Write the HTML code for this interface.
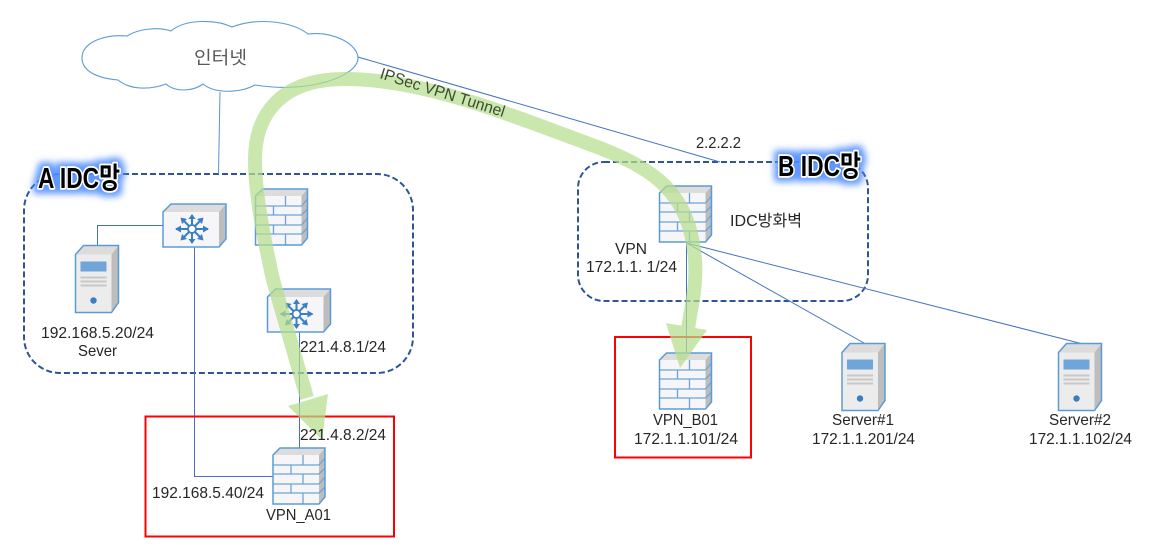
<!DOCTYPE html>
<html>
<head>
<meta charset="utf-8">
<style>
html,body{margin:0;padding:0;background:#fff;width:1163px;height:554px;overflow:hidden}
svg{display:block}
text{font-family:"Liberation Sans","Noto Sans CJK KR",sans-serif;font-size:16px;fill:#262626}
.h{font-family:"Liberation Sans","Noto Sans CJK KR",sans-serif;font-size:29px;font-weight:bold;fill:#000;stroke:#fff;stroke-width:3.5px;paint-order:stroke;stroke-linejoin:round}
</style>
</head>
<body>
<svg width="1163" height="554" viewBox="0 0 1163 554" xmlns="http://www.w3.org/2000/svg">
<defs>
<filter id="glow" x="-30%" y="-60%" width="160%" height="220%">
  <feMorphology in="SourceAlpha" operator="dilate" radius="4" result="d"/>
  <feGaussianBlur in="d" stdDeviation="3.5" result="b"/>
  <feFlood flood-color="#4f8dff" flood-opacity="0.9"/>
  <feComposite in2="b" operator="in" result="g"/>
  <feMerge><feMergeNode in="g"/><feMergeNode in="SourceGraphic"/></feMerge>
</filter>
<g id="fw">
  <polygon points="0,7 7,0 52,0 46,7" fill="#dcdcdc"/>
  <polygon points="46,7 52,0 52,49 46,56" fill="#bdbdbd"/>
  <rect x="0" y="7" width="46" height="49" fill="#f6f5f7"/>
  <g stroke="#6ea3d8" stroke-width="1.3" fill="none">
    <path d="M0,17H46M0,26H46M0,36H46M0,45H46"/>
    <path d="M30,7V17M18,17V26M30,26V36M18,36V45M30,45V56"/>
    <path d="M46,17L52,10M46,26L52,20M46,36L52,29M46,45L52,39"/>
  </g>
  <path d="M0,7L7,0H52V49L46,56H0Z" fill="none" stroke="#5b9bd5" stroke-width="1.5"/>
</g>
<g id="sw">
  <polygon points="0,8 8,0 63,0 56,8" fill="#dcdcdc"/>
  <polygon points="56,8 63,0 63,35 56,43" fill="#bdbdbd"/>
  <rect x="0" y="8" width="56" height="35" fill="#f6f5f7"/>
  <path d="M0,8L8,0H63V35L56,43H0Z" fill="none" stroke="#5b9bd5" stroke-width="1.5"/>
  <g stroke="#3a7fc4" stroke-width="2" fill="none">
    <path d="M13,25H45M29,11V39M20,16L38,34M38,16L20,34"/>
  </g>
  <g fill="#3a7fc4">
    <polygon points="12,25 18,21.5 18,28.5"/>
    <polygon points="46,25 40,21.5 40,28.5"/>
    <polygon points="29,10 25.5,15 32.5,15"/>
    <polygon points="29,40 25.5,35 32.5,35"/>
    <polygon points="17.5,13.5 24,15 19,20"/>
    <polygon points="40.5,13.5 34,15 39,20"/>
    <polygon points="17.5,36.5 24,35 19,30"/>
    <polygon points="40.5,36.5 34,35 39,30"/>
  </g>
  <circle cx="29" cy="25" r="4" fill="#fff" stroke="#3a7fc4" stroke-width="1.8"/>
</g>
<g id="sv">
  <polygon points="0,9 8,0 43,0 36,9" fill="#dcdcdc"/>
  <polygon points="36,9 43,0 43,57 36,67" fill="#bdbdbd"/>
  <rect x="0" y="9" width="36" height="58" fill="#ececec"/>
  <rect x="5" y="16" width="26" height="10" fill="#6fa5d8"/>
  <path d="M5,32H31M5,36H31M5,40H31" stroke="#c8c8c8" stroke-width="2"/>
  <circle cx="18" cy="55" r="3.2" fill="#3a7fc4"/>
  <path d="M0,9L8,0H43V57L36,67H0Z" fill="none" stroke="#5b9bd5" stroke-width="1.5"/>
</g>
</defs>

<rect x="24" y="174" width="389" height="199" rx="36" fill="none" stroke="#2f5597" stroke-width="2" stroke-dasharray="6 3"/>
<rect x="578" y="162" width="290" height="139" rx="26" fill="none" stroke="#2f5597" stroke-width="2" stroke-dasharray="6 3"/>

<g fill="none" stroke="#4472c4" stroke-width="1">
  <path d="M220,92L218.5,174" stroke="#5b8fd0"/>
  <path d="M358,57L720,162"/>
  <path d="M163,225.5H97.5V246"/>
  <path d="M194.5,246V476.5H273"/>
  <path d="M299.5,332V448"/>
  <path d="M686.5,243V353"/>
  <path d="M686.5,243L864,343"/>
  <path d="M686.5,243L1081,343.5"/>
</g>

<path d="M127,36C140,28 160,27 171,31C185,19 215,19 232,27C255,18 290,20 308,34C335,31 358,45 358,58C358,76 310,94 255,85C240,93 215,94 203,84C192,92 175,92 166,84C150,90 130,90 118,80C95,78 82,70 82,58C82,42 105,34 127,36Z" fill="#fff" stroke="#5b9bd5" stroke-width="1.1"/>

<use href="#fw" x="255.5" y="189"/>
<use href="#fw" x="273" y="448"/>
<use href="#fw" x="659.5" y="186"/>
<use href="#fw" x="659.5" y="353"/>
<use href="#sw" x="163" y="204"/>
<use href="#sw" x="267.5" y="289"/>
<use href="#sv" x="75.5" y="245.5"/>
<use href="#sv" x="842" y="343.5"/>
<use href="#sv" x="1058.5" y="343.5"/>

<rect x="145.5" y="416.5" width="248.5" height="120" fill="none" stroke="#ff0000" stroke-width="2"/>
<rect x="615" y="337" width="136" height="120.5" fill="none" stroke="#ff0000" stroke-width="2"/>

<g opacity="0.72">
  <path d="M307,398L273,280C262,230 255,190 255,160C255,115 280,79 345,79C425,79 510,115 600,148C650,168 690,190 695,260C697,290 690,310 688,330" fill="none" stroke="#b5de8e" stroke-width="14"/>
  <polygon points="288,406 328,394 322,440" fill="#b5de8e"/>
  <polygon points="666,323 707,330 680,368" fill="#b5de8e"/>
</g>

<text x="194" y="64" textLength="53" lengthAdjust="spacingAndGlyphs" style="font-size:18px;fill:#595959">인터넷</text>
<text transform="translate(379,78) rotate(17.5)" textLength="130" lengthAdjust="spacingAndGlyphs" style="fill:#3c4a30">IPSec VPN Tunnel</text>

<text x="41" y="338" textLength="113" lengthAdjust="spacingAndGlyphs">192.168.5.20/24</text>
<text x="78" y="356" textLength="39" lengthAdjust="spacingAndGlyphs">Sever</text>
<text x="300" y="352" textLength="86" lengthAdjust="spacingAndGlyphs">221.4.8.1/24</text>
<text x="300" y="440" textLength="86" lengthAdjust="spacingAndGlyphs">221.4.8.2/24</text>
<text x="152" y="498" textLength="112" lengthAdjust="spacingAndGlyphs">192.168.5.40/24</text>
<text x="266" y="520" textLength="65" lengthAdjust="spacingAndGlyphs">VPN_A01</text>
<text x="696" y="148" textLength="45" lengthAdjust="spacingAndGlyphs">2.2.2.2</text>
<text x="730" y="226" textLength="72" lengthAdjust="spacingAndGlyphs">IDC방화벽</text>
<text x="615" y="254" textLength="32" lengthAdjust="spacingAndGlyphs">VPN</text>
<text x="586" y="272" textLength="91" lengthAdjust="spacingAndGlyphs">172.1.1. 1/24</text>
<text x="653" y="425" textLength="65" lengthAdjust="spacingAndGlyphs">VPN_B01</text>
<text x="634" y="444" textLength="104" lengthAdjust="spacingAndGlyphs">172.1.1.101/24</text>
<text x="832" y="425" textLength="62" lengthAdjust="spacingAndGlyphs">Server#1</text>
<text x="812" y="444" textLength="103" lengthAdjust="spacingAndGlyphs">172.1.1.201/24</text>
<text x="1049" y="425" textLength="62" lengthAdjust="spacingAndGlyphs">Server#2</text>
<text x="1029" y="444" textLength="103" lengthAdjust="spacingAndGlyphs">172.1.1.102/24</text>

<text class="h" x="38" y="188" textLength="82" lengthAdjust="spacingAndGlyphs" filter="url(#glow)">A IDC망</text>
<text class="h" x="778" y="176" textLength="83" lengthAdjust="spacingAndGlyphs" filter="url(#glow)">B IDC망</text>
</svg>
</body>
</html>
